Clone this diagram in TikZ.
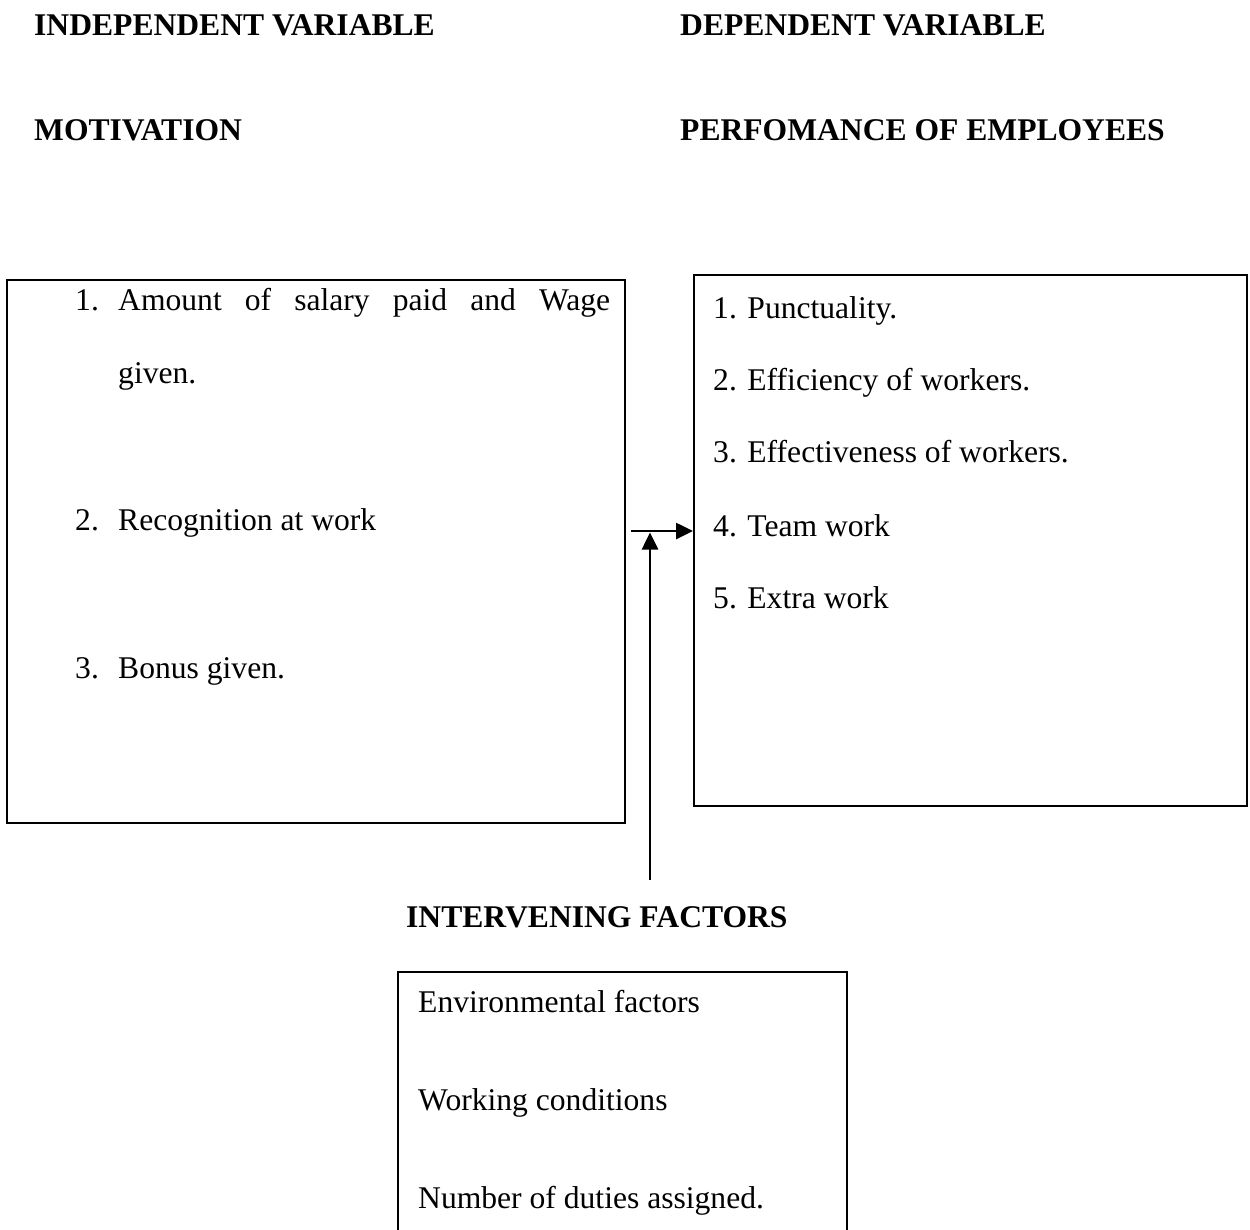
\documentclass[tikz,border=0pt]{standalone}
\usepackage{fontspec}
\setmainfont{Liberation Serif}
\usetikzlibrary{arrows.meta}
\tikzset{
  txt/.style={anchor=base west, inner sep=0pt, font=\fontsize{31.6}{37}\selectfont},
  head/.style={txt, font=\fontsize{31.6}{37}\selectfont\bfseries},
  frame/.style={draw, line width=1.5pt, anchor=north west, inner sep=0pt},
  conn/.style={line width=2.6pt, -{Triangle[length=17pt,width=16pt]}}
}
\begin{document}
\begin{tikzpicture}[x=1pt,y=-1pt]
\clip (0,0) rectangle (1250,1229);
\useasboundingbox (0,0) rectangle (1250,1229);
% headings
\node[head] (iv) at (34,35) {INDEPENDENT VARIABLE};
\node[head] (dv) at (680,35) {DEPENDENT VARIABLE};
\node[head] (mot) at (34,140) {MOTIVATION};
\node[head] (perf) at (680,140) {PERFOMANCE OF EMPLOYEES};
% boxes
\node[frame, minimum width=618pt, minimum height=543pt] (lbox) at (6,279) {};
\node[frame, line width=2.2pt, minimum width=553pt, minimum height=531pt] (rbox) at (693,274) {};
\node[frame, minimum width=449pt, minimum height=320pt] (bbox) at (397,971) {};
% left box text
\node[txt] (l1n) at (75,310) {1.};
\node[txt] (l1) at (118,310) {\makebox[492pt][s]{Amount of salary paid and Wage}};
\node[txt] (l1b) at (118,383) {given.};
\node[txt] (l2n) at (75,530) {2.};
\node[txt] (l2) at (118,530) {Recognition at work};
\node[txt] (l3n) at (75,678) {3.};
\node[txt] (l3) at (118,678) {Bonus given.};
% right box text
\node[txt] (r1) at (713,318) {1. Punctuality.};
\node[txt] (r2) at (713,390) {2. Efficiency of workers.};
\node[txt] (r3) at (713,462) {3. Effectiveness of workers.};
\node[txt] (r4) at (713,536) {4. Team work};
\node[txt] (r5) at (713,608) {5. Extra work};
% intervening
\node[head] (intv) at (406,927) {INTERVENING FACTORS};
\node[txt] (b1) at (418,1012) {Environmental factors};
\node[txt] (b2) at (418,1110) {Working conditions};
\node[txt] (b3) at (418,1208) {Number of duties assigned.};
% connectors
\coordinate (hs) at (631,531);
\coordinate (vs) at (650,880);
\draw[conn] (hs) -- (rbox.west |- hs);
\draw[conn] (vs) -- ([yshift=-1.5pt]vs |- hs);
\end{tikzpicture}
\end{document}
